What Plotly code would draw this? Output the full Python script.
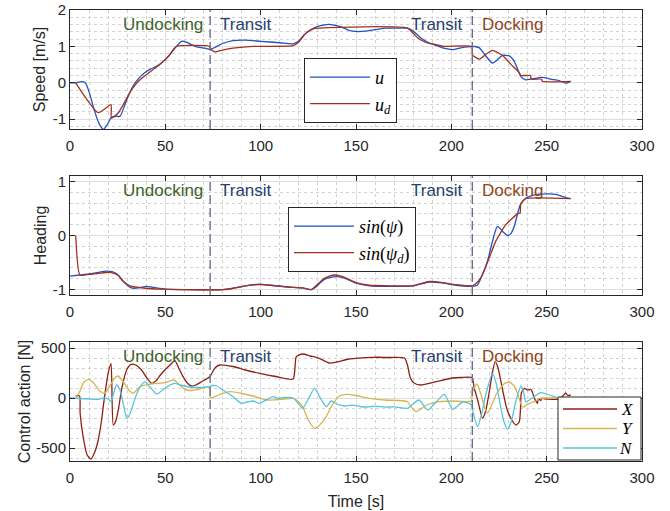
import plotly.graph_objects as go

# ---------------- data ----------------
# Speed panel
u_t = [0, 3, 6, 8, 10, 13, 15.5, 17.5, 19.5, 21.8, 24, 26.2, 29.7, 33, 36, 39, 42, 45.4, 48.5, 51.5, 55, 58.5, 61, 63.7, 67, 70.7, 73.5, 76, 80, 85.5, 92, 100, 110, 117, 120, 123, 126.5, 130, 134.4, 137, 141.4, 146, 150, 155, 160, 165.8, 172, 177, 180, 184, 188.5, 192, 196, 200.7, 205, 211, 213, 214.7, 218.2, 221.6, 225.1, 226.9, 230.4, 233, 236.5, 239, 241.7, 247.8, 252, 256.5, 260, 262.6]
u_v = [0, 0, 0.03, 0.0, -0.25, -0.8, -1.15, -1.28, -1.15, -0.95, -0.92, -0.92, -0.47, -0.1, 0.12, 0.27, 0.37, 0.45, 0.57, 0.72, 0.95, 1.14, 1.12, 1.05, 0.98, 0.95, 0.92, 0.97, 1.08, 1.16, 1.17, 1.14, 1.1, 1.07, 1.15, 1.33, 1.46, 1.55, 1.6, 1.6, 1.55, 1.45, 1.41, 1.42, 1.46, 1.5, 1.5, 1.5, 1.42, 1.23, 1.09, 1.03, 0.95, 0.91, 0.96, 1.0, 0.99, 0.96, 0.73, 0.54, 0.68, 0.75, 0.74, 0.59, 0.17, 0.08, 0.1, 0.15, 0.1, 0.06, -0.01, 0.04]
ud_t = [3, 14.8, 21.5, 21.7, 25.3, 32.3, 36, 40, 48, 52, 55.8, 73.3, 73.6, 75.9, 80, 85.5, 96, 117, 120, 123.5, 126.5, 130, 177, 182.4, 187, 192, 196, 210.8, 211, 214.7, 218, 221.6, 224, 226.9, 231, 235.6, 236.5, 241.6, 241.8, 247.4, 247.6, 262.6]
ud_v = [0, -0.82, -0.6, -0.97, -0.83, -0.19, 0.05, 0.22, 0.54, 0.75, 1.0, 1.0, 0.93, 0.85, 0.9, 0.95, 1.0, 1.02, 1.12, 1.35, 1.46, 1.5, 1.5, 1.23, 1.1, 1.05, 1.0, 1.0, 0.77, 0.65, 0.78, 0.89, 0.84, 0.75, 0.52, 0.28, 0.2, 0.2, 0.1, 0.1, 0.04, 0.04]

# Heading panel
psi_t = [0, 5.2, 10, 15, 19.2, 22, 25, 28, 32.3, 36, 40.1, 44, 50, 60, 80, 85, 92, 99.5, 105, 117, 122, 126.5, 129, 133, 136, 140, 145, 150, 157, 170, 180, 188.5, 195.6, 202.5, 211, 213.5, 216, 219, 222, 224.2, 226.8, 229.5, 231.5, 233, 236.3, 239, 245.2, 251.3, 255, 258.3, 262.6]
psi_v = [-0.75, -0.73, -0.71, -0.68, -0.66, -0.67, -0.72, -0.85, -0.97, -0.97, -0.94, -0.96, -0.99, -1.0, -1.0, -0.98, -0.93, -0.9, -0.92, -0.96, -0.97, -1.0, -0.95, -0.82, -0.78, -0.76, -0.8, -0.88, -0.93, -0.94, -0.93, -0.86, -0.88, -0.92, -0.94, -0.92, -0.75, -0.47, -0.05, 0.17, 0.08, 0.0, 0.05, 0.17, 0.58, 0.69, 0.76, 0.77, 0.76, 0.72, 0.68]
psid_t = [3, 5.2, 10, 15, 21, 25, 28, 31.4, 36, 41, 47, 60, 80, 85, 92, 99.5, 105, 117, 122, 126.5, 129, 133, 136, 139, 143, 150, 157, 170, 180, 188.5, 195.6, 202.5, 211, 214, 216.4, 220, 223.4, 228.6, 234.7, 236.1, 236.4, 239, 262.6]
psid_v = [0.0, -0.73, -0.72, -0.7, -0.68, -0.73, -0.85, -0.93, -0.96, -0.98, -0.99, -1.0, -1.0, -0.98, -0.93, -0.91, -0.92, -0.96, -0.97, -1.0, -0.93, -0.8, -0.75, -0.73, -0.76, -0.87, -0.92, -0.93, -0.93, -0.85, -0.87, -0.91, -0.93, -0.85, -0.72, -0.4, -0.1, 0.2, 0.4, 0.42, 0.58, 0.68, 0.68]

# Control action panel
X_t = [3, 5, 5.3, 7, 9, 11, 13, 14.8, 16.5, 18, 20, 21.5, 22.7, 24, 25.5, 27, 29.7, 32, 34.5, 37.5, 40, 42.8, 45, 47, 49.7, 52.5, 55, 57, 59.3, 61.5, 63.7, 66, 69, 73.3, 76, 78.5, 85.5, 92, 99.5, 108, 117, 118.7, 122, 126, 130.6, 136, 140, 145, 150, 159, 168, 175.4, 177, 178.5, 180.6, 184, 192, 200.7, 205, 210.8, 212, 213.8, 216.4, 218, 219.8, 221.5, 223, 224.5, 226.9, 229, 231.2, 233.9, 235.6, 236.3, 236.7, 238.2, 240, 241.7, 242.5, 243.5, 245.2, 245.5, 247, 247.3, 250, 255.7, 258.5, 260, 261, 262.6]
X_v = [20, 20, -150, -400, -570, -610, -540, -420, -230, -3, 247, 347, -270, -230, -100, 80, 280, 337, 330, 280, 210, 147, 170, 220, 280, 330, 373, 300, 213, 150, 120, 130, 163, 213, 300, 330, 315, 280, 247, 215, 190, 413, 440, 420, 397, 350, 360, 385, 397, 407, 405, 400, 330, 200, 147, 130, 163, 200, 205, 205, 100, -20, -203, -130, 50, 250, 363, 300, 80, -100, -203, -270, -240, -100, 47, 95, 80, 87, 60, 0, -53, -10, -25, -5, -10, -13, 20, 50, 25, 30]
Y_t = [3, 5, 7, 9.6, 12, 13.9, 16, 18, 20, 21.8, 23.5, 25.3, 27.5, 29.7, 31.5, 33.2, 35, 36.6, 41, 45, 49.7, 54.6, 57, 60.2, 64, 67, 73.3, 73.6, 78, 83.8, 90, 96, 103, 110, 117, 119.5, 122, 125, 128.3, 131, 134.4, 137, 141.4, 145, 150, 157, 165, 177, 179, 181.5, 184, 187, 193.7, 200, 210.5, 211, 213.4, 215.5, 217.3, 219, 221, 223.4, 225, 227.5, 230.4, 233, 235, 237.3, 239.5, 242, 244.5, 246, 250, 255, 262.6]
Y_v = [0, 60, 150, 187, 160, 113, 65, 47, 90, 150, 200, 220, 175, 113, 65, 47, 80, 113, 137, 145, 153, 180, 140, 87, 75, 85, 113, 0, 30, 63, 45, 20, -20, -15, -3, -30, -87, -220, -303, -270, -187, -87, 23, 37, 25, -3, -20, -37, -90, -137, -110, -70, -37, -30, -30, 60, 140, 40, -87, -150, -80, 30, 80, 140, 160, 120, 30, -90, -70, -45, -30, -5, 0, 0, 0]
N_t = [0, 5, 10, 14.8, 18, 20, 21.5, 22.5, 24.4, 26, 27.5, 29, 30.2, 32, 34, 36.5, 39.3, 42, 45.4, 48, 51.5, 55, 58, 62.8, 67, 73.3, 74.5, 77, 81, 85.5, 89.9, 93, 96, 99.5, 103, 106.5, 109, 112, 117, 119.5, 122, 125, 128.3, 131, 134.4, 137, 140, 144, 148, 152, 156, 160, 165, 170, 175, 177, 183, 187.6, 192, 196.3, 200.7, 206, 210.5, 211.5, 213.8, 216, 218, 221.6, 223.5, 225.5, 227.5, 229.5, 231.5, 234, 236.5, 238, 239, 242.5, 246.9, 251.3, 255.7, 258, 262.6]
N_v = [0, -5, -10, -13, 0, -10, -37, 20, 130, 90, -20, -150, -203, -130, -10, 100, 163, 110, 40, 70, 120, 147, 130, 110, 105, 113, 125, 120, 70, 13, -53, -40, -30, -53, -20, 13, -5, 5, 0, -50, -103, -10, 97, 10, -87, -30, -60, -80, -72, -85, -90, -82, -92, -88, -102, -103, -20, -120, -40, 37, -113, -40, -70, -150, -287, -150, 30, 247, 150, -50, -230, -313, -230, -20, 120, 50, -37, 0, 53, 30, 0, -10, 0]

# axes / labels
x_ticks = [0, 50, 100, 150, 200, 250, 300]
x_ticklabels = ["0", "50", "100", "150", "200", "250", "300"]
y1_ticks = [-1, 0, 1, 2]
y1_ticklabels = ["-1", "0", "1", "2"]
y2_ticks = [-1, 0, 1]
y2_ticklabels = ["-1", "0", "1"]
y3_ticks = [-500, 0, 500]
y3_ticklabels = ["-500", "0", "500"]
phase_lines = [73.5, 211]
phase_labels = ["Undocking", "Transit", "Transit", "Docking"]
phase_label_x = [71, 77.5, 207, 215]
force_names = ["X", "Y", "N"]

# ---------------- figure ----------------
W, H = 670, 511
def px_x(p): return p / W
def px_y(p): return 1 - p / H

xd = [px_x(70), px_x(642)]
doms = [[px_y(129), px_y(10)], [px_y(295), px_y(176)], [px_y(461), px_y(342)]]

C_U = "#2251c4"
C_UD = "#a3301f"
C_X = "#8e1f12"
C_Y = "#d6b552"
C_N = "#58c4dc"
force_colors = [C_X, C_Y, C_N]

fig = go.Figure()
sp = dict(mode="lines", line_shape="spline")
fig.add_trace(go.Scatter(x=u_t, y=u_v, name="<i>u</i>", line=dict(color=C_U, width=1.3, smoothing=0.7), xaxis="x", yaxis="y", legend="legend", **sp))
fig.add_trace(go.Scatter(x=ud_t, y=ud_v, name="<i>u</i><sub><i>d</i></sub>", line=dict(color=C_UD, width=1.3, smoothing=0.5), xaxis="x", yaxis="y", legend="legend", **sp))
fig.add_trace(go.Scatter(x=psi_t, y=psi_v, name="<i>sin</i>(<i>ψ</i>)", line=dict(color=C_U, width=1.3, smoothing=0.7), xaxis="x2", yaxis="y2", legend="legend2", **sp))
fig.add_trace(go.Scatter(x=psid_t, y=psid_v, name="<i>sin</i>(<i>ψ</i><sub><i>d</i></sub>)", line=dict(color=C_UD, width=1.3, smoothing=0.5), xaxis="x2", yaxis="y2", legend="legend2", **sp))
for name, xs, ys, col in zip(force_names, [X_t, Y_t, N_t], [X_v, Y_v, N_v], force_colors):
    fig.add_trace(go.Scatter(x=xs, y=ys, name="<i>%s</i>" % name, line=dict(color=col, width=1.3, smoothing=0.6),
                             xaxis="x3", yaxis="y3", legend="legend3", **sp))

AX = "#262626"
tickfont = dict(family="Liberation Sans, Arial, sans-serif", size=15, color=AX)
titlefont = dict(family="Liberation Sans, Arial, sans-serif", size=16, color=AX)

def xaxis(anchor, title=None):
    d = dict(domain=xd, anchor=anchor, range=[0, 300], tickmode="array", tickvals=x_ticks, ticktext=x_ticklabels,
             showline=True, linecolor=AX, linewidth=1, mirror="ticks", ticks="inside", ticklen=5, tickcolor=AX,
             showgrid=True, gridcolor="#dedede", gridwidth=1, zeroline=False, tickfont=tickfont, ticklabelstandoff=3,
             minor=dict(tick0=0, dtick=10, showgrid=True, gridcolor="#d2d2d2", griddash="dot", gridwidth=1, ticks=""))
    if title:
        d["title"] = dict(text=title, font=titlefont, standoff=10)
    return d

def yaxis(anchor, dom, rng, tv, tt, mdt, title, standoff):
    return dict(domain=dom, anchor=anchor, range=rng, tickmode="array", tickvals=tv, ticktext=tt,
                showline=True, linecolor=AX, linewidth=1, mirror="ticks", ticks="inside", ticklen=5, tickcolor=AX,
                showgrid=True, gridcolor="#dedede", gridwidth=1, zeroline=False, tickfont=tickfont,
                minor=dict(tick0=0, dtick=mdt, showgrid=True, gridcolor="#d2d2d2", griddash="dot", gridwidth=1, ticks=""),
                title=dict(text=title, font=titlefont, standoff=standoff))

leg_common = dict(bgcolor="white", bordercolor="#262626", borderwidth=1, xanchor="left", yanchor="top",
                  itemwidth=60, tracegroupgap=0)

fig.update_layout(
    width=W, height=H, autosize=False,
    margin=dict(l=0, r=0, t=0, b=0, autoexpand=False),
    paper_bgcolor="white", plot_bgcolor="white",
    xaxis=xaxis("y"),
    xaxis2=xaxis("y2"),
    xaxis3=xaxis("y3", "Time [s]"),
    yaxis=yaxis("x", doms[0], [-1.27, 2], y1_ticks, y1_ticklabels, 0.2, "Speed [m/s]", 3),
    yaxis2=yaxis("x2", doms[1], [-1.1, 1.1], y2_ticks, y2_ticklabels, 0.2, "Heading", 2),
    yaxis3=yaxis("x3", doms[2], [-630, 560], y3_ticks, y3_ticklabels, 100, "Control action [N]", 1),
    legend=dict(x=px_x(304), y=px_y(58), font=dict(family="Liberation Serif, serif", size=18, color="black"), **leg_common),
    legend2=dict(x=px_x(288), y=px_y(207), font=dict(family="Liberation Serif, serif", size=18, color="black"), **leg_common),
    legend3=dict(visible=False),
    showlegend=True,
)

shapes = []
annots = []
label_colors = ["#3d6129", "#283f6e", "#283f6e", "#8f4419"]
label_anchor = ["right", "left", "right", "left"]
for k, (xa, ya) in enumerate([("x", "y"), ("x2", "y2"), ("x3", "y3")]):
    for xl in phase_lines:
        shapes.append(dict(type="line", xref=xa, yref=ya + " domain", x0=xl, x1=xl, y0=0, y1=1,
                           line=dict(color="#65738a", width=1.4, dash="9px,4px"), layer="above"))
    for lab, lx, col, anc in zip(phase_labels, phase_label_x, label_colors, label_anchor):
        annots.append(dict(text=lab, x=lx, y=0.874, xref=xa, yref=ya + " domain", xanchor=anc, yanchor="middle",
                           showarrow=False, font=dict(family="Liberation Sans, Arial, sans-serif", size=17, color=col)))

# compact legend box for the control-action panel (drawn like the MATLAB one)
shapes.append(dict(type="rect", xref="paper", yref="paper", x0=px_x(558), x1=px_x(641), y0=px_y(460), y1=px_y(397),
                   fillcolor="white", line=dict(color="#262626", width=1), layer="above"))
for i, (name, col) in enumerate(zip(force_names, force_colors)):
    yy = px_y(409 + i * 19.5)
    shapes.append(dict(type="line", xref="paper", yref="paper", x0=px_x(563), x1=px_x(617), y0=yy, y1=yy,
                       line=dict(color=col, width=1.3), layer="above"))
    annots.append(dict(text="<i>%s</i>" % name, x=px_x(635), y=yy, xref="paper", yref="paper", xanchor="right",
                       yanchor="middle", showarrow=False,
                       font=dict(family="Liberation Serif, serif", size=17, color="black")))

fig.update_layout(shapes=shapes, annotations=annots)

fig.write_html("out.html", config={"displayModeBar": False},
               post_script="document.body.style.margin='0';document.body.style.overflow='hidden';")
